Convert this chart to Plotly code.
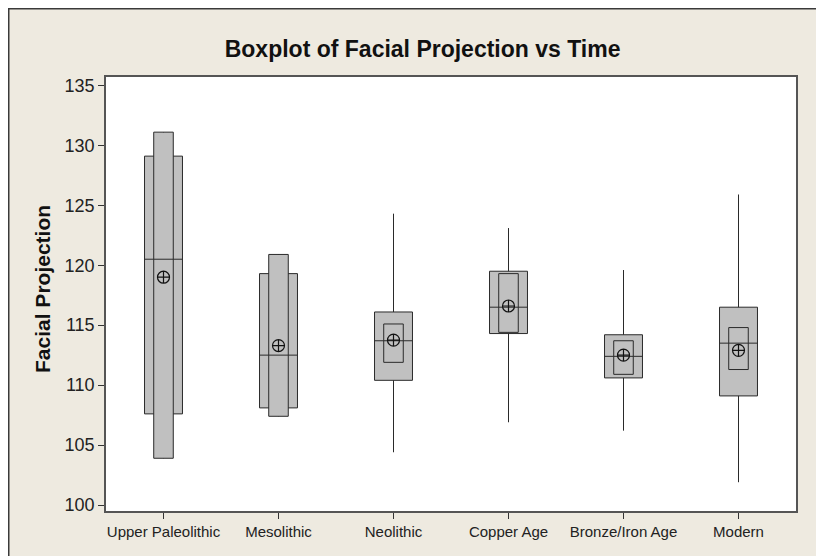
import plotly.graph_objects as go

# values
periods = ["Upper Paleolithic", "Mesolithic", "Neolithic", "Copper Age", "Bronze/Iron Age", "Modern"]
whisker_lo = [103.9, 107.4, 104.4, 106.9, 106.2, 101.9]
q1 = [107.6, 108.1, 110.4, 114.3, 110.6, 109.1]
median = [120.5, 112.5, 113.7, 116.5, 112.4, 113.5]
q3 = [129.1, 119.3, 116.1, 119.5, 114.2, 116.5]
whisker_hi = [131.1, 120.9, 124.3, 123.1, 119.6, 125.9]
ci_lo = [103.9, 107.4, 111.9, 114.4, 110.9, 111.3]
ci_hi = [131.1, 120.9, 115.1, 119.3, 113.7, 114.8]
means = [119.0, 113.3, 113.75, 116.6, 112.5, 112.9]

fig = go.Figure()

# interquartile boxes with whiskers
fig.add_trace(go.Box(
    x=periods, q1=q1, median=median, q3=q3,
    lowerfence=whisker_lo, upperfence=whisker_hi,
    width=0.33, whiskerwidth=0,
    fillcolor="#C0C0C0", line=dict(color="#2a2a2a", width=1),
    boxpoints=False, hoverinfo="skip", showlegend=False,
))

# confidence interval boxes for the median
fig.add_trace(go.Box(
    x=periods, q1=ci_lo, median=median, q3=ci_hi,
    lowerfence=ci_lo, upperfence=ci_hi,
    width=0.17, whiskerwidth=0,
    fillcolor="#C0C0C0", line=dict(color="#2a2a2a", width=1),
    boxpoints=False, hoverinfo="skip", showlegend=False,
))

# mean symbols
fig.add_trace(go.Scatter(
    x=periods, y=means, mode="markers",
    marker=dict(symbol="circle-cross-open", size=12, color="#111", line=dict(width=1.2)),
    hoverinfo="skip", showlegend=False,
))

# page body has an 8px margin, so the figure starts at (8, 8)
W, H = 824, 556
L, R, T, B = 98, 36, 69, 53
pw = W - L - R
ph = H - T - B

fig.update_layout(
    width=W, height=H,
    margin=dict(l=L, r=R, t=T, b=B),
    paper_bgcolor="white",
    plot_bgcolor="white",
    boxmode="overlay",
    font=dict(family="Liberation Sans, Arial, sans-serif", color="#222"),
    title=dict(
        text="<b>Boxplot of Facial Projection vs Time</b>",
        x=414.6 / W, xanchor="center", y=1 - 40.5 / H, yanchor="middle",
        font=dict(size=23, color="#111"),
    ),
    shapes=[
        # beige frame of the graph window
        dict(type="rect", xref="paper", yref="paper",
             x0=(0.75 - L) / pw, x1=2, y0=-1, y1=(H - B - 0.75) / ph,
             fillcolor="#EEEAE0", line=dict(color="#3a3a3a", width=1.5), layer="below"),
        dict(type="rect", xref="paper", yref="paper",
             x0=0, x1=1, y0=0, y1=1,
             fillcolor="white", line=dict(width=0), layer="below"),
    ],
    annotations=[
        dict(text="<b>Facial Projection</b>", xref="paper", yref="paper",
             x=(34 - L) / pw, y=(H - B - 281) / ph, textangle=-90,
             showarrow=False, xanchor="center", yanchor="middle",
             font=dict(size=21, color="#111")),
    ],
)

fig.update_xaxes(
    type="category", range=[-0.5, 5.5],
    showline=True, linecolor="#555", linewidth=1.5, mirror=True,
    ticks="outside", ticklen=6, tickcolor="#333", tickwidth=1,
    showgrid=False, zeroline=False,
    tickfont=dict(size=15),
)
fig.update_yaxes(
    range=[99.5, 135.7], tickvals=[100, 105, 110, 115, 120, 125, 130, 135],
    showline=True, linecolor="#555", linewidth=1.5, mirror=True,
    ticks="outside", ticklen=6, tickcolor="#333", tickwidth=1,
    showgrid=False, zeroline=False,
    tickfont=dict(size=18),
)

fig.write_html("out.html")
